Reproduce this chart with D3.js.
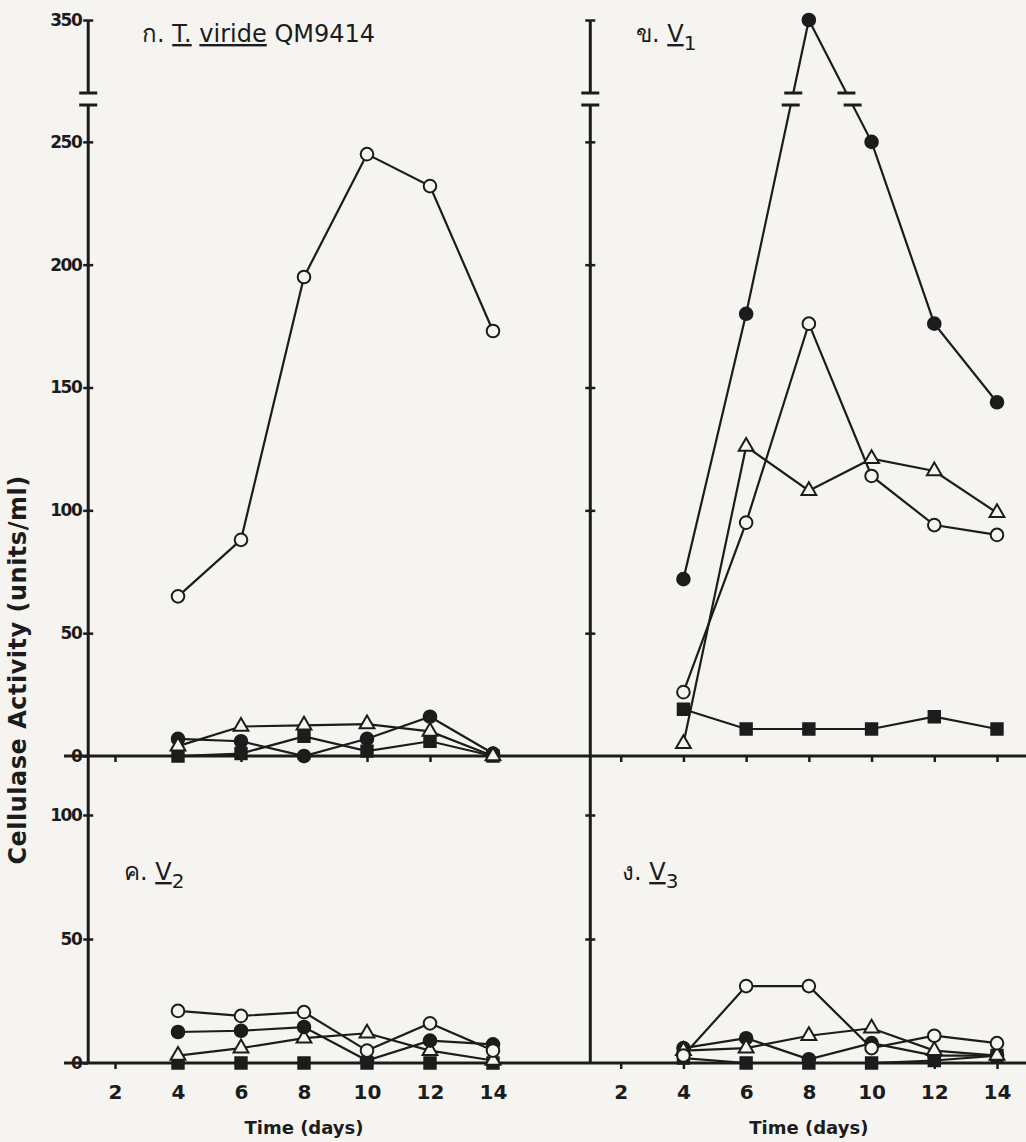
<!DOCTYPE html>
<html>
<head>
<meta charset="utf-8">
<script src="https://cdn.jsdelivr.net/npm/d3@7"></script>
<style>
  body { margin: 0; background: #f5f4f0; }
  svg { display: block; }
  text { font-family: "DejaVu Sans", sans-serif; fill: #1c1c1c; }
  .axis path { display: none; }
  .axis line { stroke: #1c1c1c; stroke-width: 2.5; }
</style>
</head>
<body>
<svg width="1026" height="1142"></svg>
<script>
// days sampled
const days = [4, 6, 8, 10, 12, 14];
const dayTicks = [2, 4, 6, 8, 10, 12, 14];
const topTicks = [0, 50, 100, 150, 200, 250, 350];
const bottomTicks = [0, 50, 100];

// panel a : T. viride QM9414
const viride_openCircle = [65, 88, 195, 245, 232, 173];
const viride_filledCircle = [7, 6, 0, 7, 16, 1];
const viride_openTriangle = [4, 12, 12.5, 13, 10, 0];
const viride_filledSquare = [0, 1, 8, 2, 6, 0];

// panel b : V1
const v1_filledCircle = [72, 180, 350, 250, 176, 144];
const v1_openCircle = [26, 95, 176, 114, 94, 90];
const v1_openTriangle = [5, 126, 108, 121, 116, 99];
const v1_filledSquare = [19, 11, 11, 11, 16, 11];

// panel c : V2
const v2_openCircle = [21, 19, 20.5, 5, 16, 5];
const v2_filledCircle = [12.5, 13, 14.5, 1, 9, 7.5];
const v2_openTriangle = [3, 6, 10, 12, 5, 1];
const v2_filledSquare = [0, 0, 0, 0, 0, 0];

// panel d : V3
const v3_openCircle = [3, 31, 31, 6, 11, 8];
const v3_filledCircle = [6, 10, 1.5, 8, 3, 3];
const v3_openTriangle = [5, 6, 11, 14, 5, 3];
const v3_filledSquare = [2, 0, 0, 0, 1, 3];

const ink = "#1c1c1c", paper = "#f5f4f0";
const svg = d3.select("svg");

// scales -- the top row has a broken axis between 265 and 320
const xLeft = d3.scaleLinear().domain([0, 14]).range([52, 493]);
const xRight = d3.scaleLinear().domain([0, 14]).range([558, 997]);
const yTop = d3.scaleLinear().domain([0, 265, 320, 350]).range([756, 105, 93, 20]);
const yBot = d3.scaleLinear().domain([0, 100]).range([1063, 815]);
const axisL = xLeft(1.15), axisR = xRight(1.03);

// horizontal zero lines across both panels
[yTop(0), yBot(0)].forEach(y => {
  svg.append("line").attr("x1", 64).attr("x2", 1026).attr("y1", y).attr("y2", y)
    .attr("stroke", ink).attr("stroke-width", 3);
});

// vertical axes, with a break just above 250
[axisL, axisR].forEach(x => {
  svg.append("line").attr("x1", x).attr("x2", x).attr("y1", yTop(350)).attr("y2", yTop(320) - 1)
    .attr("stroke", ink).attr("stroke-width", 3);
  svg.append("line").attr("x1", x).attr("x2", x).attr("y1", yTop(265) + 1).attr("y2", yBot(0))
    .attr("stroke", ink).attr("stroke-width", 3);
  [yTop(320), yTop(265)].forEach(y => {
    svg.append("line").attr("x1", x - 9).attr("x2", x + 9).attr("y1", y).attr("y2", y)
      .attr("stroke", ink).attr("stroke-width", 3);
  });
});

// y ticks (crossing the axis), labels only on the left
function yTicks(x, scale, values, labels) {
  const g1 = svg.append("g").attr("class", "axis").attr("transform", `translate(${x},0)`)
    .call(d3.axisLeft(scale).tickValues(values).tickSize(5).tickPadding(2)
      .tickFormat(labels ? d3.format("d") : ""));
  g1.selectAll("text").style("font-size", "17px").style("letter-spacing", "-1.5px")
    .style("font-weight", "bold");
  svg.append("g").attr("class", "axis").attr("transform", `translate(${x},0)`)
    .call(d3.axisRight(scale).tickValues(values.filter(v => v > 0)).tickSize(5).tickFormat(""));
}
yTicks(axisL, yTop, topTicks, true);
yTicks(axisR, yTop, topTicks.slice(1), false);
yTicks(axisL, yBot, bottomTicks, true);
yTicks(axisR, yBot, bottomTicks.slice(1), false);

// x ticks on both zero lines, labels on the bottom one
[xLeft, xRight].forEach(x => {
  svg.append("g").attr("class", "axis").attr("transform", `translate(0,${yTop(0)})`)
    .call(d3.axisBottom(x).tickValues(dayTicks).tickSize(6).tickFormat(""));
  const gb = svg.append("g").attr("class", "axis").attr("transform", `translate(0,${yBot(0)})`)
    .call(d3.axisBottom(x).tickValues(dayTicks).tickSize(6).tickPadding(16));
  gb.selectAll("text").style("font-size", "20px").style("font-weight", "600");
  svg.append("text").attr("x", x(8)).attr("y", 1134).attr("text-anchor", "middle")
    .style("font-size", "18px").style("font-weight", "600").text("Time (days)");
});

// y axis title
svg.append("text").attr("transform", "translate(26,670) rotate(-90)")
  .attr("text-anchor", "middle").style("font-size", "24px").style("font-weight", "600")
  .style("letter-spacing", "0.5px")
  .text("Cellulase  Activity (units/ml)");

// markers
function drawSeries(x, y, values, shape) {
  const pts = values.map((v, i) => [x(days[i]), y(v)]);
  svg.append("path").attr("d", d3.line()(pts)).attr("fill", "none")
    .attr("stroke", ink).attr("stroke-width", 2.2);
  const filled = shape === "filledCircle" || shape === "filledSquare";
  const sym = shape.endsWith("Circle") ? d3.symbolCircle
    : shape.endsWith("Triangle") ? d3.symbolTriangle : d3.symbolSquare;
  const size = shape.endsWith("Circle") ? 125 : shape.endsWith("Triangle") ? 95 : 130;
  svg.append("g").selectAll("path").data(pts).join("path")
    .attr("transform", d => `translate(${d[0]},${d[1]})`)
    .attr("d", d3.symbol(sym, size))
    .attr("fill", filled ? ink : paper).attr("stroke", ink).attr("stroke-width", 2);
  return pts;
}

drawSeries(xLeft, yTop, viride_filledSquare, "filledSquare");
drawSeries(xLeft, yTop, viride_filledCircle, "filledCircle");
drawSeries(xLeft, yTop, viride_openTriangle, "openTriangle");
drawSeries(xLeft, yTop, viride_openCircle, "openCircle");

drawSeries(xRight, yTop, v1_filledSquare, "filledSquare");
drawSeries(xRight, yTop, v1_openCircle, "openCircle");
drawSeries(xRight, yTop, v1_openTriangle, "openTriangle");
const peak = drawSeries(xRight, yTop, v1_filledCircle, "filledCircle");

drawSeries(xLeft, yBot, v2_filledSquare, "filledSquare");
drawSeries(xLeft, yBot, v2_openTriangle, "openTriangle");
drawSeries(xLeft, yBot, v2_filledCircle, "filledCircle");
drawSeries(xLeft, yBot, v2_openCircle, "openCircle");

drawSeries(xRight, yBot, v3_filledSquare, "filledSquare");
drawSeries(xRight, yBot, v3_filledCircle, "filledCircle");
drawSeries(xRight, yBot, v3_openTriangle, "openTriangle");
drawSeries(xRight, yBot, v3_openCircle, "openCircle");

// break marks where the V1 peak line crosses the axis break
const yb1 = yTop(320), yb2 = yTop(265);
for (let i = 0; i < peak.length - 1; i++) {
  const [a, b] = [peak[i], peak[i + 1]];
  if ((a[1] - yb2) * (b[1] - yb1) < 0) {
    const at = y => a[0] + (b[0] - a[0]) * (y - a[1]) / (b[1] - a[1]);
    svg.append("rect").attr("x", Math.min(at(yb1), at(yb2)) - 3).attr("y", yb1)
      .attr("width", Math.abs(at(yb1) - at(yb2)) + 6).attr("height", yb2 - yb1).attr("fill", paper);
    [yb1, yb2].forEach(y => {
      svg.append("line").attr("x1", at(y) - 9).attr("x2", at(y) + 9).attr("y1", y).attr("y2", y)
        .attr("stroke", ink).attr("stroke-width", 3);
    });
  }
}

// panel titles
function title(x, y, letter, parts) {
  const t = svg.append("text").attr("x", x).attr("y", y).style("font-size", "24px");
  t.append("tspan").text(letter + "  ");
  parts.forEach(p => {
    const s = t.append("tspan").text(p.text);
    if (p.u) s.style("text-decoration", "underline");
    if (p.sub) s.attr("dy", 8).style("font-size", "20px");
  });
}
title(142, 42, "ก.", [{text: "T.", u: true}, {text: " "}, {text: "viride", u: true}, {text: " QM9414"}]);
title(636, 42, "ข.", [{text: "V", u: true}, {text: "1", sub: true}]);
title(124, 880, "ค.", [{text: "V", u: true}, {text: "2", sub: true}]);
title(622, 880, "ง.", [{text: "V", u: true}, {text: "3", sub: true}]);
</script>
</body>
</html>
